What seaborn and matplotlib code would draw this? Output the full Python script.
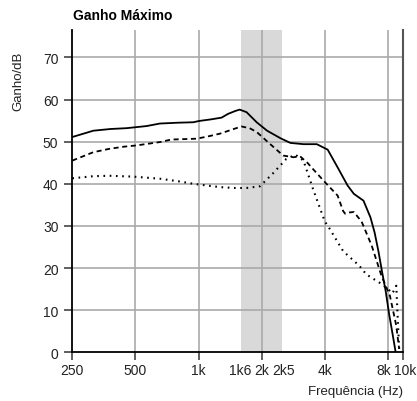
import matplotlib
matplotlib.use("Agg")
import matplotlib.pyplot as plt
import matplotlib.transforms as mtransforms
import seaborn as sns
import pandas as pd
from matplotlib.ticker import FixedLocator, FixedFormatter, NullLocator

# ---- data ----
freq_solid = [250, 315, 380, 454, 565, 654, 800, 943, 1004, 1150, 1287, 1383, 1500, 1570,
              1693, 1892, 2121, 2459, 2739, 3163, 3660, 4125, 4600, 5130, 5500, 6110,
              6600, 6900, 7200, 7500, 7800, 8100, 8400, 8700]
gain_solid = [51.1, 52.6, 53.0, 53.2, 53.7, 54.3, 54.5, 54.6, 54.9, 55.3, 55.7, 56.6, 57.3, 57.6,
              57.0, 54.6, 52.6, 50.8, 49.7, 49.4, 49.4, 48.1, 43.9, 39.6, 37.6, 36.0,
              32.0, 28.5, 24.0, 19.0, 14.5, 9.0, 4.5, 0.0]

freq_dashed = [250, 315, 376, 440, 505, 654, 741, 977, 1100, 1265, 1450, 1600, 1750, 1892,
               2185, 2530, 2830, 3050, 3300, 3510, 4000, 4600, 4890, 5000, 5250, 5500,
               5990, 6690, 7440, 8170, 8760, 9040]
gain_dashed = [45.5, 47.5, 48.3, 48.8, 49.1, 49.9, 50.5, 50.7, 51.2, 51.9, 52.9, 53.6, 53.2, 52.3,
               49.5, 46.7, 46.3, 46.5, 45.0, 43.5, 40.4, 37.2, 33.5, 32.9, 33.2, 33.3,
               31.0, 25.3, 18.2, 13.4, 6.3, 0.8]

freq_dotted = [250, 315, 376, 487, 654, 800, 943, 1265, 1500, 1693, 1960, 2255, 2620, 2895,
               3163, 3510, 4000, 4125, 4890, 5850, 6300, 7300, 7540, 8000, 8400, 8760, 8900, 9040]
gain_dotted = [41.3, 41.8, 41.9, 41.7, 41.2, 40.6, 40.0, 39.2, 39.0, 39.0, 39.4, 42.4, 45.9, 46.9,
               45.5, 38.8, 31.0, 30.1, 24.0, 20.5, 18.5, 16.5, 16.0, 15.0, 14.0, 15.8, 8.0, 0.8]

band_lo, band_hi = 1600, 2500
x_ticks = [250, 500, 1000, 1600, 2000, 2500, 4000, 8000, 9430]
x_tick_labels = ["250", "500", "1k", "1k6", "2k", "2k5", "4k", "8k", "10k"]
x_grid = [500, 1000, 2000, 4000, 8000]
y_ticks = [0, 10, 20, 30, 40, 50, 60, 70]

title = "Ganho Máximo"
ylabel = "Ganho/dB"
xlabel = "Frequência (Hz)"

sns.set_theme(style="white")
plt.rcParams["font.family"] = ["Liberation Sans Narrow", "Liberation Sans", "DejaVu Sans"]

fig = plt.figure(figsize=(4.17, 4.02), dpi=100)
ax = fig.add_axes([72.3 / 417, 1 - 353.3 / 402, (403 - 72.3) / 417, (353.3 - 31) / 402])

ax.set_xscale("log")
ax.set_xlim(250, 9430)
ax.set_ylim(0, 76.5)

ax.axvspan(band_lo, band_hi, color="#d9d9d9", lw=0, zorder=0)
for xv in x_grid:
    ax.axvline(xv, color="#aaaaaa", lw=1.2, zorder=1)
for yv in y_ticks[1:]:
    ax.axhline(yv, color="#aaaaaa", lw=1.2, zorder=1)

df_s = pd.DataFrame({"f": freq_solid, "g": gain_solid})
df_d = pd.DataFrame({"f": freq_dashed, "g": gain_dashed})
df_o = pd.DataFrame({"f": freq_dotted, "g": gain_dotted})
sns.lineplot(data=df_s, x="f", y="g", ax=ax, color="black", lw=1.3, sort=False, zorder=3)
sns.lineplot(data=df_d, x="f", y="g", ax=ax, color="black", lw=1.3, sort=False, zorder=3,
             linestyle=(0, (2.8, 2)))
sns.lineplot(data=df_o, x="f", y="g", ax=ax, color="black", lw=1.5, sort=False, zorder=3,
             linestyle=(0, (0.8, 2.2)))

ax.xaxis.set_major_locator(FixedLocator(x_ticks))
ax.xaxis.set_major_formatter(FixedFormatter(x_tick_labels))
ax.xaxis.set_minor_locator(NullLocator())
ax.set_yticks(y_ticks)
ax.set_yticklabels([str(v) for v in y_ticks])

ax.tick_params(axis="both", which="major", direction="out", length=6, width=1.2,
               color="#444444", labelsize=10, labelcolor="#222222", pad=2,
               bottom=True, left=True)
ax.tick_params(axis="y", pad=4)
# no tick marks at 1k6 / 2k5 (no grid there)
for t, v in zip(ax.xaxis.get_major_ticks(), x_ticks):
    if v in (1600, 2500):
        t.tick1line.set_visible(False)

fig.canvas.draw()
shifts = {"8k": -3 / 72, "10k": 1.5 / 72, "1k6": -1 / 72, "2k5": 1 / 72}
for lab in ax.get_xticklabels():
    s = lab.get_text()
    if s in shifts:
        lab.set_transform(lab.get_transform() +
                          mtransforms.ScaledTranslation(shifts[s], 0, fig.dpi_scale_trans))

ax.spines["top"].set_visible(False)
ax.spines["left"].set_color("black")
ax.spines["left"].set_linewidth(1.3)
ax.spines["bottom"].set_color("black")
ax.spines["bottom"].set_linewidth(1.3)
ax.spines["right"].set_color("#555555")
ax.spines["right"].set_linewidth(1.5)

ax.set_xlabel("")
ax.set_ylabel("")
fig.text(403 / 417, 1 - 392 / 402, xlabel, ha="right", va="center", fontsize=9.5,
         color="#222222")
fig.text(18 / 417, 1 - 81 / 402, ylabel, ha="center", va="center", rotation=90,
         fontsize=9.5, color="#222222")
fig.text(73 / 417, 1 - 16 / 402, title, ha="left", va="center", fontsize=10,
         fontweight="bold", family=["Liberation Sans", "DejaVu Sans"], color="black")

fig.savefig("out.png", dpi=100)
